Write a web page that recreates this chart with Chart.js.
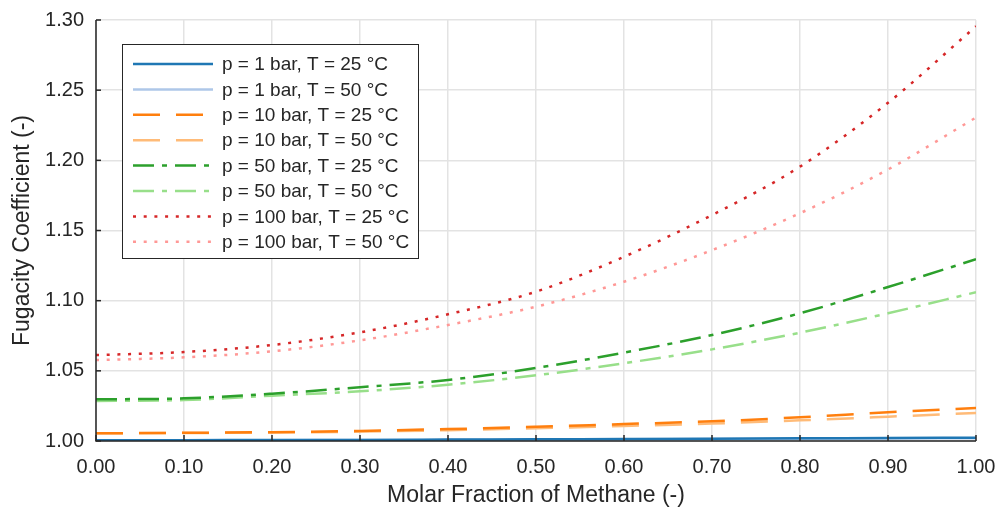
<!DOCTYPE html>
<html><head><meta charset="utf-8">
<script src="https://cdn.jsdelivr.net/npm/chart.js@4/dist/chart.umd.min.js"></script>
<style>html,body{margin:0;padding:0;background:#fff}#wrap{width:1002px;height:512px}</style>
</head><body><div id="wrap"><canvas id="c" width="1002" height="512"></canvas></div>
<script>
const xFractions = [0.0,0.1,0.2,0.3,0.4,0.5,0.6,0.7,0.8,0.9,1.0];
const p1T25   = [1.0005,1.0006,1.0007,1.0008,1.0010,1.0012,1.0014,1.0016,1.0019,1.0021,1.0024];
const p1T50   = [1.0004,1.0005,1.0006,1.0007,1.0008,1.0010,1.0012,1.0014,1.0016,1.0018,1.0020];
const p10T25  = [1.0055,1.0058,1.0063,1.0072,1.0085,1.0101,1.0121,1.0140,1.0169,1.0205,1.0235];
const p10T50  = [1.0055,1.0057,1.0060,1.0067,1.0077,1.0091,1.0107,1.0124,1.0147,1.0173,1.0200];
const p50T25  = [1.0297,1.0304,1.0337,1.0383,1.0435,1.0520,1.0630,1.0755,1.0910,1.1097,1.1295];
const p50T50  = [1.0285,1.0292,1.0323,1.0354,1.0401,1.0468,1.0554,1.0653,1.0772,1.0910,1.1060];
const p100T25 = [1.0612,1.0634,1.0684,1.0774,1.0903,1.1064,1.1313,1.1610,1.1955,1.2410,1.2955];
const p100T50 = [1.0577,1.0596,1.0639,1.0717,1.0827,1.0957,1.1135,1.1360,1.1623,1.1935,1.2305];
const seriesLabels = ['p = 1 bar, T = 25 °C','p = 1 bar, T = 50 °C','p = 10 bar, T = 25 °C','p = 10 bar, T = 50 °C','p = 50 bar, T = 25 °C','p = 50 bar, T = 50 °C','p = 100 bar, T = 25 °C','p = 100 bar, T = 50 °C'];
const xTickValues = [0,0.1,0.2,0.3,0.4,0.5,0.6,0.7,0.8,0.9,1.0];

const seriesData = [p1T25,p1T50,p10T25,p10T50,p50T25,p50T50,p100T25,p100T50];
const colors = ['#1f77b4','#aec7e8','#ff7f0e','#ffbb78','#2ca02c','#98df8a','#d62728','#ff9896'];
const dashes = [[],[],[27,16],[27,16],[21,8,5,8],[21,8,5,8],[3,7.7],[3,7.7]];
const TXT = '#262626';
const FONT = 'Liberation Sans, Arial, sans-serif';

const datasets = seriesData.map((arr,i)=>({
  label: seriesLabels[i],
  data: arr.map((v,j)=>({x:xFractions[j], y:v})),
  borderColor: colors[i], backgroundColor: colors[i],
  borderWidth: 2.5, borderDash: dashes[i], pointRadius: 0,
  cubicInterpolationMode: 'monotone', fill:false
}));

const innerTicks = {
  id:'innerTicks',
  afterDatasetsDraw(chart){
    const ctx=chart.ctx, a=chart.chartArea, xs=chart.scales.x, ys=chart.scales.y;
    ctx.save();
    ctx.strokeStyle=TXT; ctx.lineWidth=1.5;
    ctx.beginPath();
    ctx.moveTo(a.left, a.top); ctx.lineTo(a.left, a.bottom); ctx.lineTo(a.right, a.bottom);
    ctx.stroke();
    xTickValues.forEach(v=>{const px=xs.getPixelForValue(v); ctx.beginPath(); ctx.moveTo(px,a.bottom); ctx.lineTo(px,a.bottom-6); ctx.stroke();});
    ys.ticks.forEach(t=>{const py=ys.getPixelForValue(t.value); ctx.beginPath(); ctx.moveTo(a.left,py); ctx.lineTo(a.left+5,py); ctx.stroke();});
    // legend
    const lx=122, ly=44, lw=296, lh=214;
    ctx.fillStyle='#fff'; ctx.fillRect(lx,ly,lw,lh);
    ctx.strokeStyle=TXT; ctx.lineWidth=1; ctx.strokeRect(lx+0.5,ly+0.5,lw,lh);
    ctx.font='19px '+FONT; ctx.textBaseline='middle'; ctx.textAlign='left';
    chart.data.datasets.forEach((ds,i)=>{
      const y = 64 + i*25.4;
      ctx.strokeStyle=ds.borderColor; ctx.lineWidth=2.5; ctx.setLineDash(ds.borderDash||[]);
      ctx.beginPath(); ctx.moveTo(133,y); ctx.lineTo(213,y); ctx.stroke();
      ctx.setLineDash([]);
      ctx.fillStyle=TXT; ctx.fillText(ds.label, 222, y+1);
    });
    ctx.restore();
  }
};

new Chart(document.getElementById('c'), {
  type:'line',
  data:{datasets},
  options:{
    responsive:false, animation:false,
    layout:{padding:{top:20,right:26,left:0,bottom:0}},
    plugins:{legend:{display:false}, tooltip:{enabled:false}},
    scales:{
      x:{type:'linear', min:0, max:1,
        afterBuildTicks(s){ s.ticks = xTickValues.map(v=>({value:v})); },
        afterFit(s){ s.height = 71; s.paddingLeft = 0; s.paddingRight = 0; },
        ticks:{callback:v=>Number(v).toFixed(2), color:TXT, font:{family:FONT,size:20}, padding:14, maxRotation:0, autoSkip:false},
        grid:{color:'#e3e3e3', lineWidth:1.5, drawTicks:false},
        border:{display:false},
        title:{display:true, text:'Molar Fraction of Methane (-)', color:TXT, font:{family:FONT,size:23}, padding:{top:0,bottom:3}}
      },
      y:{min:1.0, max:1.3,
        ticks:{stepSize:0.05, callback:v=>Number(v).toFixed(2), color:TXT, font:{family:FONT,size:20}, padding:12},
        afterFit(s){ s.width = 96; s.paddingTop = 0; s.paddingBottom = 0; },
        grid:{color:'#e3e3e3', lineWidth:1.5, drawTicks:false},
        border:{display:false},
        title:{display:true, text:'Fugacity Coefficient (-)', color:TXT, font:{family:FONT,size:23}, padding:{top:9,bottom:0}}
      }
    }
  },
  plugins:[innerTicks]
});
</script></body></html>
